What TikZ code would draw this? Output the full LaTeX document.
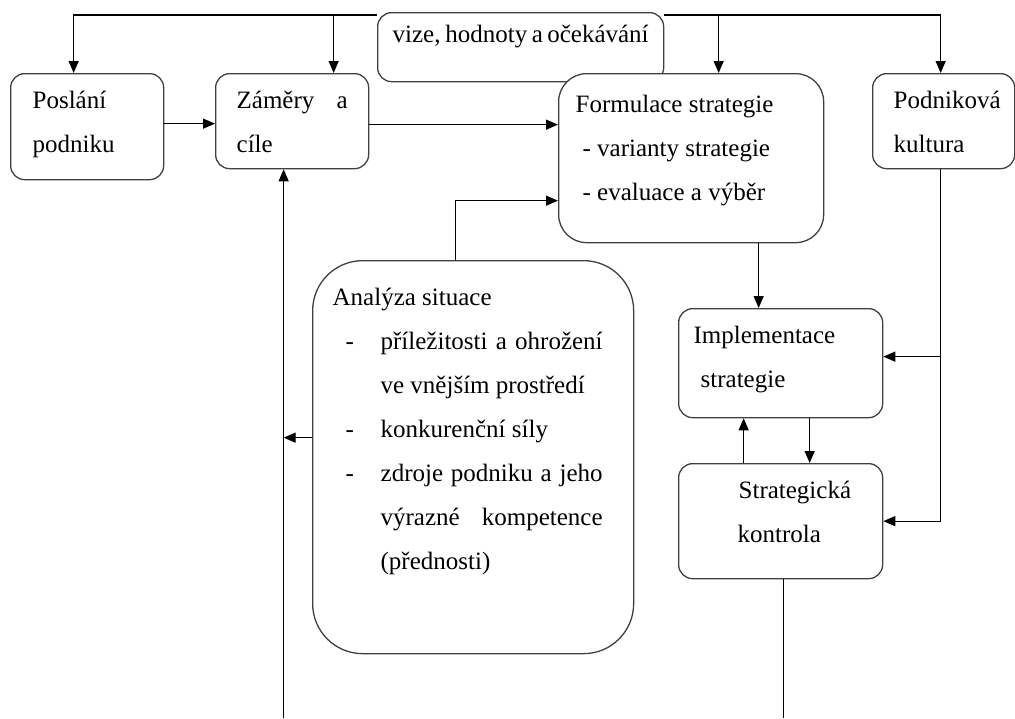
\documentclass[tikz,border=0pt]{standalone}
\usepackage{fontspec}
\setmainfont{Liberation Serif}
\newfontfamily\diagfont{Liberation Serif}
\usepackage{tikz}
\usepackage{xcolor}
\usetikzlibrary{calc}
\usetikzlibrary{positioning}
\usetikzlibrary{arrows.meta}

\tikzset{
  blok/.style={draw=black!75, fill=white, line width=1.3pt, rounded corners=14pt, anchor=north west,
    inner ysep=0pt, font=\diagfont\fontsize{25}{44}\selectfont},
  linka/.style={line width=1.3pt},
  spoj/.style={linka, -{Triangle[length=12pt,width=10pt]}}
}

\begin{document}
\begin{tikzpicture}[x=1pt,y=-1pt]
\useasboundingbox (0,0) rectangle (1015,718);

\node[blok, inner xsep=22pt] (poslani) at (10,73)
  {\parbox[c][106pt][t]{109pt}{\rule{0pt}{35pt}Poslání\\podniku}};
\node[blok, inner xsep=21pt] (zamery) at (215,73)
  {\parbox[c][95pt][t]{111pt}{\rule{0pt}{35pt}Záměry\hfill a\\cíle}};
\node[blok, inner xsep=15pt] (vize) at (377,12)
  {\parbox[c][69pt][t]{256pt}{\rule{0pt}{30pt}vize, hodnoty a očekávání}};
\node[blok, inner xsep=17pt, rounded corners=28pt] (formulace) at (558,73)
  {\parbox[c][169pt][t]{231pt}{\rule{0pt}{39pt}Formulace strategie\\
   \hspace*{7pt}- varianty strategie\\\hspace*{7pt}- evaluace a výběr}};
\node[blok, inner xsep=21pt] (podnikova) at (872,73)
  {\parbox[c][95pt][t]{100pt}{\rule{0pt}{35pt}Podniková\\kultura}};
\node[blok, inner xsep=20pt, rounded corners=50pt] (analyza) at (312,260)
  {\parbox[c][393pt][t]{281pt}{\rightskip=11pt \tolerance=10000 \hyphenpenalty=10000
   \rule{0pt}{45pt}Analýza situace\par
   \hangindent=48pt\hangafter=1\noindent\makebox[48pt][l]{\hspace{13pt}-}příležitosti a ohrožení\linebreak ve vnějším prostředí\par
   \hangindent=48pt\hangafter=1\noindent\makebox[48pt][l]{\hspace{13pt}-}konkurenční síly\par
   \hangindent=48pt\hangafter=1\noindent\makebox[48pt][l]{\hspace{13pt}-}zdroje podniku a jeho\linebreak výrazné kompetence\linebreak (přednosti)\par}};
\node[blok, inner xsep=15pt] (implementace) at (678,308)
  {\parbox[c][109pt][t]{174pt}{\rule{0pt}{35pt}Implementace\\\hspace*{7pt}strategie}};
\node[blok, inner xsep=15pt] (strategicka) at (678,463)
  {\parbox[c][115pt][t]{174pt}{\rule{0pt}{35pt}\hspace*{45pt}Strategická\\\hspace*{44pt}kontrola}};

\coordinate (top) at (0,15);
\coordinate (bottom) at (0,718);

% horni rozvod od vize
\draw[spoj] (vize.west |- top) -| ($(poslani.north)+(-13.5,0)$);
\coordinate (zx) at ($(zamery.north)+(41.5,0)$);
\draw[spoj] (zx |- top) -- (zx);
\draw[spoj] (vize.east |- top) -| ($(podnikova.north)+(-3,0)$);
\coordinate (fx) at ($(formulace.north)+(27.5,0)$);
\draw[spoj] (fx |- top) -- (fx);

\coordinate (r1) at ($(poslani.east)+(0,-3)$);
\draw[spoj] (r1) -- (r1 -| zamery.west);
\coordinate (r2) at ($(zamery.east)+(0,3.5)$);
\draw[spoj] (r2) -- (r2 -| formulace.west);

\coordinate (a1) at ($(analyza.north)+(-17.5,0)$);
\coordinate (f1) at ($(formulace.west)+(0,42.5)$);
\draw[spoj] (a1) |- (f1);

\coordinate (f2) at ($(formulace.south)+(67.5,0)$);
\draw[spoj] (f2) -- (f2 |- implementace.north);

% kultura
\coordinate (p1) at ($(podnikova.south)+(-3,0)$);
\draw[spoj] (p1) |- (strategicka.east);
\coordinate (i1) at ($(implementace.east)+(0,-6.5)$);
\draw[spoj] (p1 |- i1) -- (i1);

\coordinate (s1) at ($(strategicka.north)+(-37,0)$);
\draw[spoj] (s1) -- (s1 |- implementace.south);
\coordinate (i2) at ($(implementace.south)+(29,0)$);
\draw[spoj] (i2) -- (i2 |- strategicka.north);

% zpetna vazba
\coordinate (s2) at ($(strategicka.south)+(3,0)$);
\draw[linka] (s2) -- (s2 |- bottom);
\coordinate (z1) at ($(zamery.south)+(-8.5,0)$);
\draw[spoj] (z1 |- bottom) -- (z1);
\coordinate (a2) at ($(analyza.west)+(0,-19.5)$);
\draw[spoj] (a2) -- (a2 -| z1);

\end{tikzpicture}
\end{document}
